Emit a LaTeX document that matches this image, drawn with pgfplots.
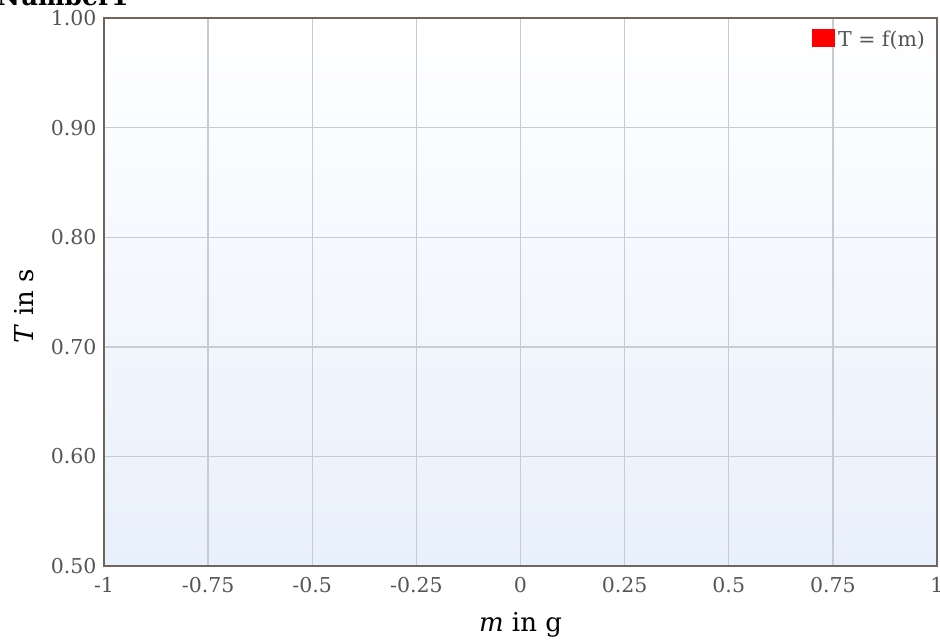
\documentclass[border=0pt]{standalone}
\usepackage{fontspec}
\setmainfont{DejaVu Serif}
\usepackage{pgfplots}
\pgfplotsset{compat=1.18}
\definecolor{framec}{RGB}{112,102,94}
\definecolor{gridc}{RGB}{200,203,208}
\definecolor{tickc}{RGB}{85,85,85}
\definecolor{bgbot}{RGB}{232,240,252}
\begin{document}
\begin{tikzpicture}
\begin{axis}[
  scale only axis,
  width=833bp, height=548bp,
  xmin=-1, xmax=1, ymin=0.5, ymax=1.0,
  xtick={-1,-0.75,-0.5,-0.25,0,0.25,0.5,0.75,1},
  xticklabels={-1,-0.75,-0.5,-0.25,0,0.25,0.5,0.75,1},
  ytick={0.5,0.6,0.7,0.8,0.9,1.0},
  yticklabels={0.50,0.60,0.70,0.80,0.90,1.00},
  major tick length=0pt,
  tick label style={font=\fontsize{20.5bp}{24bp}\selectfont, text=tickc},
  xticklabel style={yshift=-8bp},
  yticklabel style={xshift=-4bp},
  grid=major,
  major grid style={draw=gridc, line width=1.4bp},
  axis line style={draw=framec, line width=1.5bp},
  axis background/.style={top color=white, bottom color=bgbot},
  xlabel={\textit{m} in g},
  ylabel={\textit{T} in s},
  label style={font=\fontsize{26bp}{30bp}\selectfont, text=black},
  xlabel style={at={(axis description cs:0.5,-0.1204)}, anchor=base},
  ylabel style={at={(axis description cs:-0.0852,0.474)}, anchor=base},
  legend style={at={(rel axis cs:1,1)}, anchor=north east, draw=none, fill=none,
    xshift=-10bp, yshift=-11bp, font=\fontsize{20.5bp}{24bp}\selectfont, text=tickc,
    inner sep=0pt, outer sep=0pt},
  legend cell align=left,
  legend image code/.code={\fill[red] (0bp,-7bp) rectangle (22bp,10bp);},
  clip=false,
]
\addlegendimage{}
\addlegendentry{\hspace{2bp}T = f(m)}
\node[anchor=base west, font=\bfseries\fontsize{25bp}{28bp}\selectfont, inner sep=0pt]
  at ([shift={(-107bp,13bp)}]rel axis cs:0,1) {Number1};
\end{axis}
\pgfresetboundingbox
\path[use as bounding box] ([shift={(-104bp,-76bp)}]current axis.south west) rectangle ([shift={(836bp,566bp)}]current axis.south west);
\end{tikzpicture}
\end{document}
